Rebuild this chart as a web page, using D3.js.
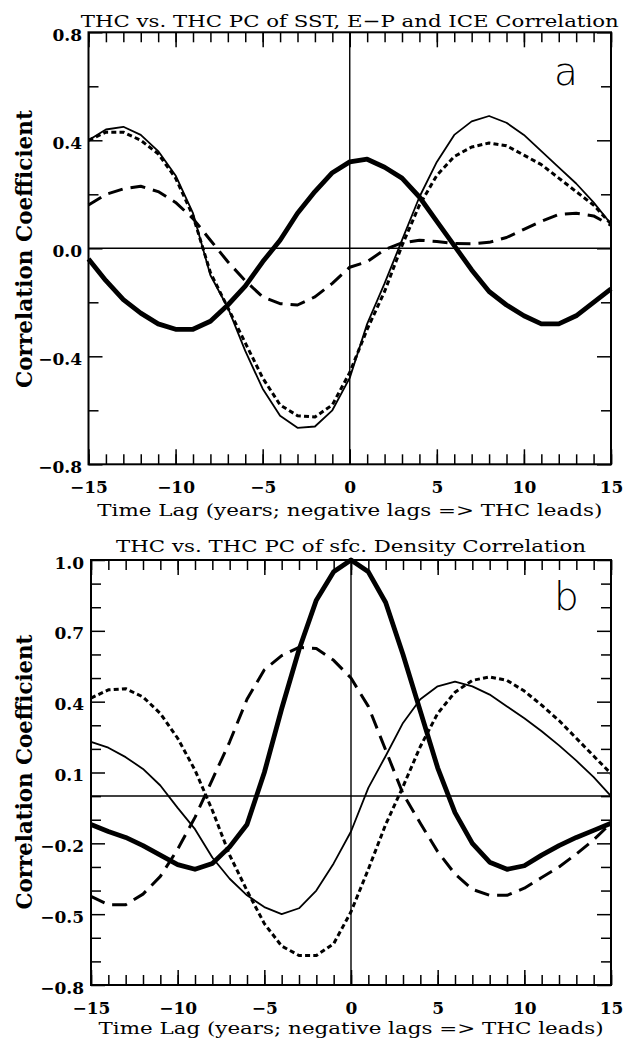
<!DOCTYPE html>
<html>
<head>
<meta charset="utf-8">
<script src="https://cdn.jsdelivr.net/npm/d3@7"></script>
<style>
  html, body { margin: 0; padding: 0; background: #fff; }
  svg { display: block; }
  text { fill: #000; }
</style>
</head>
<body>
<svg id="fig" width="623" height="1043"></svg>
<script>
// Lag axis (years); negative lags => THC leads
const lags = [-15,-14,-13,-12,-11,-10,-9,-8,-7,-6,-5,-4,-3,-2,-1,0,1,2,3,4,5,6,7,8,9,10,11,12,13,14,15];

// Panel a: THC vs. THC PC of SST, E-P and ICE
const aHeavy  = [-0.04,-0.12,-0.19,-0.24,-0.28,-0.30,-0.30,-0.27,-0.21,-0.14,-0.05,0.03,0.13,0.21,0.28,0.32,0.33,0.30,0.26,0.19,0.10,0.01,-0.08,-0.16,-0.21,-0.25,-0.28,-0.28,-0.25,-0.20,-0.15];
const aThin   = [0.40,0.44,0.45,0.42,0.36,0.27,0.13,-0.10,-0.22,-0.38,-0.52,-0.62,-0.665,-0.66,-0.60,-0.48,-0.28,-0.13,0.03,0.19,0.32,0.42,0.47,0.49,0.465,0.42,0.36,0.30,0.24,0.17,0.09];
const aDotted = [0.40,0.43,0.43,0.40,0.35,0.26,0.12,-0.09,-0.22,-0.35,-0.48,-0.58,-0.62,-0.625,-0.58,-0.46,-0.30,-0.16,0.01,0.16,0.27,0.34,0.375,0.39,0.38,0.345,0.31,0.26,0.21,0.16,0.09];
const aDashed = [0.16,0.20,0.22,0.23,0.21,0.17,0.11,0.03,-0.05,-0.12,-0.18,-0.205,-0.21,-0.18,-0.13,-0.07,-0.05,-0.005,0.02,0.03,0.025,0.018,0.017,0.022,0.04,0.07,0.10,0.125,0.13,0.12,0.085];

// Panel b: THC vs. THC PC of sfc. Density
const bHeavy  = [-0.12,-0.15,-0.175,-0.21,-0.25,-0.29,-0.31,-0.285,-0.215,-0.12,0.10,0.37,0.62,0.83,0.95,1.00,0.95,0.82,0.60,0.36,0.12,-0.07,-0.20,-0.28,-0.31,-0.295,-0.25,-0.21,-0.175,-0.145,-0.115];
const bThin   = [0.23,0.205,0.165,0.115,0.045,-0.05,-0.14,-0.26,-0.35,-0.42,-0.47,-0.50,-0.475,-0.40,-0.285,-0.15,0.035,0.17,0.31,0.41,0.465,0.485,0.465,0.43,0.38,0.33,0.275,0.215,0.15,0.08,0.00];
const bDotted = [0.415,0.45,0.455,0.42,0.35,0.245,0.11,-0.06,-0.25,-0.40,-0.54,-0.635,-0.675,-0.675,-0.625,-0.49,-0.31,-0.12,0.04,0.21,0.35,0.44,0.49,0.505,0.49,0.445,0.385,0.32,0.245,0.17,0.095];
const bDashed = [-0.425,-0.46,-0.46,-0.415,-0.34,-0.225,-0.09,0.07,0.23,0.41,0.535,0.595,0.63,0.625,0.575,0.50,0.38,0.195,0.01,-0.115,-0.235,-0.33,-0.395,-0.42,-0.42,-0.39,-0.345,-0.30,-0.245,-0.185,-0.115];

// Tick values and labels
const xMajor = [-15,-10,-5,0,5,10,15];
const xMinor = [-15,-14,-13,-12,-11,-10,-9,-8,-7,-6,-5,-4,-3,-2,-1,0,1,2,3,4,5,6,7,8,9,10,11,12,13,14,15];
const aYMajor = [-0.8,-0.4,0.0,0.4,0.8];
const aYMinor = [-0.6,-0.2,0.2,0.6];
const bYMajor = [-0.8,-0.5,-0.2,0.1,0.4,0.7,1.0];
const bYMinor = [-0.7,-0.6,-0.4,-0.3,-0.1,0.0,0.2,0.3,0.5,0.6,0.8,0.9];

const titleA = "THC vs. THC PC of SST, E\u2212P and ICE Correlation";
const titleB = "THC vs. THC PC of sfc. Density Correlation";
const xTitle = "Time Lag (years; negative lags => THC leads)";
const yTitle = "Correlation Coefficient";

const styles = {
  heavy:  {w: 4.8, dash: null},
  thin:   {w: 1.8, dash: null},
  dotted: {w: 3.0, dash: "5,3.2"},
  dashed: {w: 3.0, dash: "15,8"}
};

const svg = d3.select("#fig");
svg.append("rect").attr("width", 623).attr("height", 1043).attr("fill", "#fff");

const SERIF = "'DejaVu Serif', 'Liberation Serif', serif";
const fmt = v => (v < 0 ? "\u2212" : "") + Math.abs(v).toFixed(1);
function fmtInt(v) { return (v < 0 ? "\u2212" : "") + Math.abs(v); }

function panel(cfg) {
  const {left, right, top, bottom, yDomain, yMajor, yMinor, series, title, titleY, titleLen, letter, letterX, letterY, yLabRight, yTitleY} = cfg;
  const x = d3.scaleLinear().domain([-15, 15]).range([left, right]);
  const y = d3.scaleLinear().domain(yDomain).range([bottom, top]);
  const g = svg.append("g");

  const tickStyle = sel => {
    sel.select(".domain").remove();
    sel.selectAll(".tick line").attr("stroke", "#000").attr("stroke-width", 1.5);
  };

  // x ticks, bottom and top, pointing inward
  g.append("g").attr("transform", `translate(0,${bottom})`)
    .call(d3.axisBottom(x).tickValues(xMinor).tickSize(-10).tickFormat(""))
    .call(tickStyle);
  const xb = g.append("g").attr("transform", `translate(0,${bottom})`)
    .call(d3.axisBottom(x).tickValues(xMajor).tickSize(-15).tickFormat(fmtInt))
    .call(tickStyle);
  xb.selectAll(".tick text")
    .attr("y", cfg.xLabOffset).attr("dy", null)
    .style("font-family", SERIF).style("font-weight", "bold").style("font-size", "17px").attr("fill", "#000");
  g.append("g").attr("transform", `translate(0,${top})`)
    .call(d3.axisTop(x).tickValues(xMinor).tickSize(-10).tickFormat(""))
    .call(tickStyle);
  g.append("g").attr("transform", `translate(0,${top})`)
    .call(d3.axisTop(x).tickValues(xMajor).tickSize(-15).tickFormat(""))
    .call(tickStyle);

  // y ticks, left and right, pointing inward
  g.append("g").attr("transform", `translate(${left},0)`)
    .call(d3.axisLeft(y).tickValues(yMinor).tickSize(-10).tickFormat(""))
    .call(tickStyle);
  const yl = g.append("g").attr("transform", `translate(${left},0)`)
    .call(d3.axisLeft(y).tickValues(yMajor).tickSize(-14).tickFormat(fmt))
    .call(tickStyle);
  yl.selectAll(".tick text")
    .attr("x", -yLabRight).attr("dy", null).attr("y", 8)
    .style("font-family", SERIF).style("font-weight", "bold").style("font-size", "17px").attr("fill", "#000");
  g.append("g").attr("transform", `translate(${right},0)`)
    .call(d3.axisRight(y).tickValues(yMinor).tickSize(-10).tickFormat(""))
    .call(tickStyle);
  g.append("g").attr("transform", `translate(${right},0)`)
    .call(d3.axisRight(y).tickValues(yMajor).tickSize(-14).tickFormat(""))
    .call(tickStyle);

  // zero reference lines
  g.append("line").attr("x1", left).attr("x2", right).attr("y1", y(0)).attr("y2", y(0))
    .attr("stroke", "#000").attr("stroke-width", 1.5);
  g.append("line").attr("x1", x(0)).attr("x2", x(0)).attr("y1", top).attr("y2", bottom)
    .attr("stroke", "#000").attr("stroke-width", 1.4);

  // curves
  const line = d3.line().x((d, i) => x(lags[i])).y(d => y(d));
  series.forEach(s => {
    const st = styles[s.style];
    g.append("path").datum(s.values)
      .attr("d", line)
      .attr("fill", "none")
      .attr("stroke", "#000")
      .attr("stroke-width", st.w)
      .attr("stroke-linejoin", "round")
      .attr("stroke-dasharray", st.dash);
  });

  // frame
  g.append("rect").attr("x", left).attr("y", top)
    .attr("width", right - left).attr("height", bottom - top)
    .attr("fill", "none").attr("stroke", "#000").attr("stroke-width", 2);

  // titles
  const cx = (left + right) / 2;
  g.append("text").attr("x", cx).attr("y", titleY)
    .attr("text-anchor", "middle")
    .attr("textLength", titleLen).attr("lengthAdjust", "spacingAndGlyphs")
    .style("font-family", SERIF).style("font-size", "17.5px")
    .text(title);
  g.append("text").attr("x", cx).attr("y", bottom + cfg.xTitleOffset)
    .attr("text-anchor", "middle")
    .attr("textLength", 505).attr("lengthAdjust", "spacingAndGlyphs")
    .style("font-family", SERIF).style("font-size", "17.5px")
    .text(xTitle);
  g.append("text")
    .attr("transform", `translate(32,${yTitleY}) rotate(-90)`)
    .attr("text-anchor", "middle")
    .attr("textLength", cfg.yTitleLen).attr("lengthAdjust", "spacingAndGlyphs")
    .style("font-family", SERIF).style("font-weight", "bold").style("font-size", "23px")
    .text(yTitle);

  // panel letter
  g.append("text").attr("x", letterX).attr("y", letterY)
    .style("font-family", "'DejaVu Sans', 'Liberation Sans', sans-serif")
    .style("font-weight", 200).style("font-size", "39px")
    .text(letter);
}

panel({
  left: 88.5, right: 611, top: 32.3, bottom: 464.3,
  yDomain: [-0.8, 0.8], yMajor: aYMajor, yMinor: aYMinor,
  series: [
    {values: aHeavy, style: "heavy"},
    {values: aThin, style: "thin"},
    {values: aDotted, style: "dotted"},
    {values: aDashed, style: "dashed"}
  ],
  title: titleA, titleY: 27, titleLen: 538,
  letter: "a", letterX: 554, letterY: 85,
  yLabRight: 6.5, xLabOffset: 29, xTitleOffset: 51.5,
  yTitleY: 249, yTitleLen: 278
});

panel({
  left: 91, right: 611, top: 560, bottom: 985,
  yDomain: [-0.8, 1.0], yMajor: bYMajor, yMinor: bYMinor,
  series: [
    {values: bHeavy, style: "heavy"},
    {values: bThin, style: "thin"},
    {values: bDotted, style: "dotted"},
    {values: bDashed, style: "dashed"}
  ],
  title: titleB, titleY: 551.5, titleLen: 470,
  letter: "b", letterX: 554, letterY: 610,
  yLabRight: 7, xLabOffset: 29, xTitleOffset: 49,
  yTitleY: 772, yTitleLen: 275
});
</script>
</body>
</html>
